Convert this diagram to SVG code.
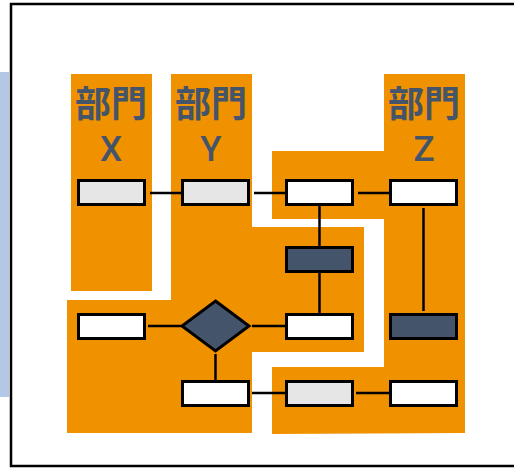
<svg xmlns="http://www.w3.org/2000/svg" width="514" height="468" viewBox="0 0 514 468">
<style>
.lane{fill:#F09100}
.box{stroke:#000;stroke-width:3}
.w{fill:#FFFFFF}
.g{fill:#E6E6E6}
.d{fill:#44546A}
.ln{stroke:#000;stroke-width:2.5;fill:none}
.jp{font-family:"Noto Sans CJK JP","Noto Sans CJK SC",sans-serif;font-weight:bold;font-size:36px;fill:#44546A;text-anchor:middle}
.lt{font-family:Roboto,"Liberation Sans",sans-serif;font-weight:500;font-size:35px;fill:#44546A;text-anchor:middle}
</style>
<rect x="0" y="72" width="9" height="325" fill="#B4C7E7"/>
<rect x="11" y="4" width="512" height="462" fill="#FFFFFF" stroke="#000" stroke-width="2.5"/>
<g id="laneX">
<rect class="lane" x="71" y="74" width="81" height="217"/>
<text class="jp" x="111" y="117">部門</text>
<text class="lt" x="111" y="161">X</text>
</g>
<g id="laneY">
<polygon class="lane" points="171,74 252,74 252,227 364,227 364,352 252,352 252,433 67,433 67,300 171,300"/>
<text class="jp" x="211" y="117">部門</text>
<text class="lt" x="211" y="161">Y</text>
</g>
<g id="laneZ">
<polygon class="lane" points="384,74 465,74 465,433 272,434 272,367 384,367 384,219 272,219 272,151 384,151"/>
<text class="jp" x="424" y="117">部門</text>
<text class="lt" x="424" y="161">Z</text>
</g>
<g id="connectors">
<line class="ln" x1="150" y1="193" x2="182" y2="193"/>
<line class="ln" x1="254" y1="193" x2="286" y2="193"/>
<line class="ln" x1="358" y1="193" x2="390" y2="193"/>
<line class="ln" x1="319.5" y1="206" x2="319.5" y2="247"/>
<line class="ln" x1="319.5" y1="272" x2="319.5" y2="314"/>
<line class="ln" x1="423.5" y1="208" x2="423.5" y2="311"/>
<line class="ln" x1="148" y1="326" x2="181" y2="326"/>
<line class="ln" x1="252" y1="326" x2="285" y2="326"/>
<line class="ln" x1="215.5" y1="354" x2="215.5" y2="380"/>
<line class="ln" x1="252" y1="393" x2="285" y2="393"/>
<line class="ln" x1="356" y1="393" x2="389" y2="393"/>
</g>
<g id="n1"><rect class="box g" x="78.5" y="180.5" width="66" height="24"/></g>
<g id="n2"><rect class="box g" x="182.5" y="180.5" width="66" height="24"/></g>
<g id="n3"><rect class="box w" x="286.5" y="180.5" width="66" height="24"/></g>
<g id="n4"><rect class="box w" x="390.5" y="180.5" width="66" height="24"/></g>
<g id="n5"><rect class="box d" x="286.5" y="247.5" width="66" height="24"/></g>
<g id="n6"><rect class="box w" x="78.5" y="314.5" width="66" height="24"/></g>
<g id="n7"><polygon class="box d" points="215.5,301 249,326 215.5,351 182,326"/></g>
<g id="n8"><rect class="box w" x="286.5" y="314.5" width="66" height="24"/></g>
<g id="n9"><rect class="box d" x="390.5" y="314.5" width="66" height="24"/></g>
<g id="n10"><rect class="box w" x="182.5" y="381.5" width="66" height="24"/></g>
<g id="n11"><rect class="box g" x="286.5" y="381.5" width="66" height="24"/></g>
<g id="n12"><rect class="box w" x="390.5" y="381.5" width="66" height="24"/></g>
</svg>
